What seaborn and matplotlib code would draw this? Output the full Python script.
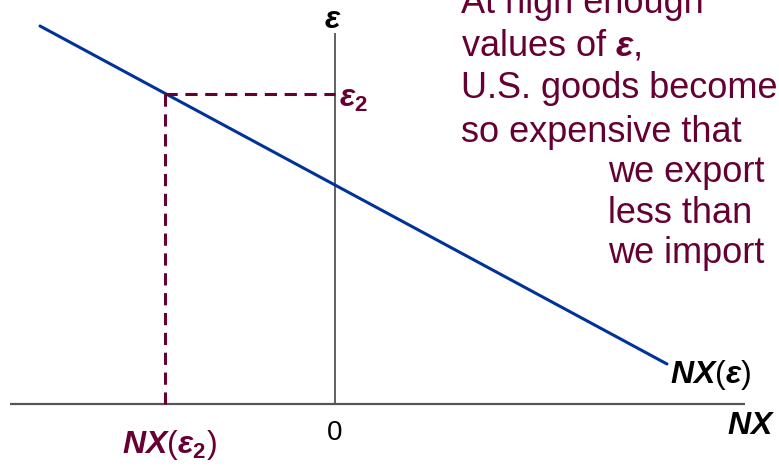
import matplotlib
matplotlib.use("Agg")
import matplotlib.pyplot as plt
import seaborn as sns
import pandas as pd

# NX(eps) schedule (origin at the axes crossing)
nx_curve = [-295, 332]
eps_curve = [378, 40]
# the point eps_2 and its net exports
nx2 = -170
eps2 = 310
# axis extents
x_axis = [-325, 410]
y_axis = [0, 371]

note_lines = ["At high enough", r"values of $\mathbfit{\varepsilon}$,", "U.S. goods become",
              "so expensive that", "we export", "less than", "we import"]

maroon = "#660033"
blue = "#003399"
grey = "#555555"

sns.set_style("white")
plt.rcParams["font.family"] = ["Liberation Sans", "DejaVu Sans"]
plt.rcParams["mathtext.fontset"] = "custom"
plt.rcParams["mathtext.rm"] = "Liberation Sans"
plt.rcParams["mathtext.it"] = "Liberation Sans:italic"
plt.rcParams["mathtext.bf"] = "Liberation Sans:bold"
plt.rcParams["mathtext.bfit"] = "Liberation Sans:bold:italic"

fig = plt.figure(figsize=(7.79, 4.66), dpi=100)
ax = fig.add_axes([0, 0, 1, 1])
ax.set_xlim(-335, 444)
ax.set_ylim(-62, 404)
ax.axis("off")

# axes
ax.plot(x_axis, [0, 0], color=grey, lw=1.6, solid_capstyle="butt")
ax.plot([0, 0], y_axis, color=grey, lw=1.3, solid_capstyle="butt")

# NX curve
df = pd.DataFrame({"NX": nx_curve, "eps": eps_curve})
sns.lineplot(data=df, x="NX", y="eps", color=blue, lw=2.2, ax=ax, sort=False)

# dashed guides
ax.plot([nx2, 0], [eps2, eps2], color=maroon, lw=2.2, ls=(0, (4, 2.5)))
ax.plot([nx2, nx2], [eps2, 0], color=maroon, lw=2.2, ls=(0, (4, 2.5)))

# labels
ax.text(-2, 376, r"$\mathbfit{\varepsilon}$", fontsize=23, ha="center", va="baseline", color="black")
ax.text(4, 297, r"$\mathbfit{\varepsilon}_{\mathbf{2}}$", fontsize=23, ha="left", va="baseline", color=maroon)
ax.text(335, 21, r"$\mathbfit{NX}\mathrm{(}\mathbfit{\varepsilon}\mathrm{)}$", fontsize=23,
        ha="left", va="baseline", color="black")
ax.text(440, -30, r"$\mathbfit{NX}$", fontsize=23, ha="right", va="baseline", color="black")
ax.text(0, -36, "0", fontsize=20, ha="center", va="baseline", color="black")
ax.text(-213, -49, r"$\mathbfit{NX}\mathrm{(}\mathbfit{\varepsilon}_{\mathbf{2}}\mathrm{)}$", fontsize=23,
        ha="left", va="baseline", color=maroon)

# note
baselines = [391, 349, 306, 262, 222, 181, 141]
lefts = [126, 126, 126, 126, 273, 273, 273]
for line, y, x in zip(note_lines, baselines, lefts):
    ax.text(x, y, line, fontsize=26, ha="left", va="baseline", color=maroon)

fig.savefig("out.png", dpi=100)
